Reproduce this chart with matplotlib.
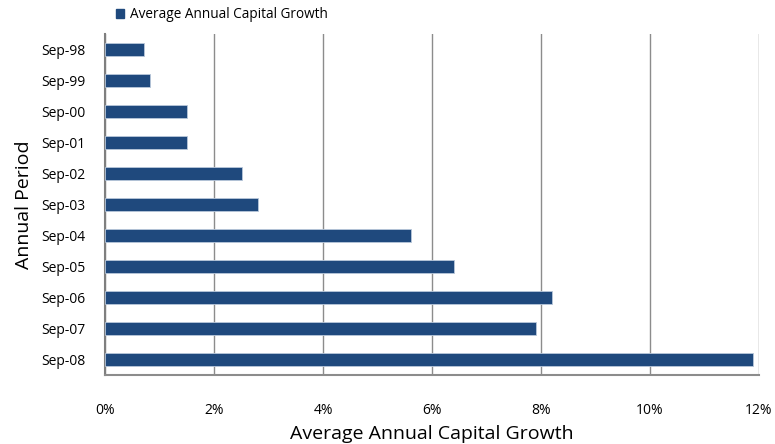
import matplotlib
matplotlib.use("Agg")
import matplotlib.pyplot as plt
from matplotlib.ticker import FuncFormatter
from matplotlib.patches import Patch

periods = ["Sep-98", "Sep-99", "Sep-00", "Sep-01", "Sep-02", "Sep-03",
           "Sep-04", "Sep-05", "Sep-06", "Sep-07", "Sep-08"]
growth = [0.72, 0.83, 1.5, 1.5, 2.51, 2.8, 5.61, 6.4, 8.2, 7.91, 11.89]
x_ticks = [0, 2, 4, 6, 8, 10, 12]
series_name = "Average Annual Capital Growth"

plt.rcParams['font.family'] = ['Open Sans', 'DejaVu Sans']

fig = plt.figure(figsize=(7.75, 4.44), dpi=100)
ax = fig.add_axes([105/775, 1 - 375/444, (759-105)/775, (375-34)/444])

bar_color = "#1F497D"
ypos = list(range(len(periods)))
ax.barh(ypos, growth, height=0.4, color=bar_color, edgecolor="#B8C7DA",
        linewidth=0.6, zorder=3)
ax.set_ylim(len(periods) - 0.5, -0.5)
ax.set_xlim(0, 12)
ax.set_yticks(ypos)
ax.set_yticklabels(periods, fontsize=10)
ax.set_xticks(x_ticks)
ax.xaxis.set_major_formatter(FuncFormatter(lambda v, p: f"{v:.0f}%"))
ax.tick_params(axis='x', length=0, pad=20, labelsize=10)
ax.tick_params(axis='y', length=0, pad=14)
ax.grid(axis='x', color="#8C8C8C", linewidth=1.0, zorder=0)
ax.spines["top"].set_visible(False)
ax.spines["right"].set_visible(False)
ax.spines["left"].set_color("#7F7F7F")
ax.spines["left"].set_linewidth(1.5)
ax.spines["bottom"].set_color("#8C8C8C")
ax.spines["bottom"].set_linewidth(1.5)

ax.set_xlabel("Average Annual Capital Growth", fontsize=14, labelpad=5)
ax.set_ylabel("Annual Period", fontsize=14, labelpad=6)

handle = Patch(facecolor=bar_color, edgecolor=bar_color)
fig.legend([handle], [series_name], loc="center", bbox_to_anchor=(222/775, 1 - 15/444),
           frameon=False, fontsize=9.8, handlelength=0.6, handleheight=0.6,
           handletextpad=0.4)

fig.savefig("out.png", dpi=100)
